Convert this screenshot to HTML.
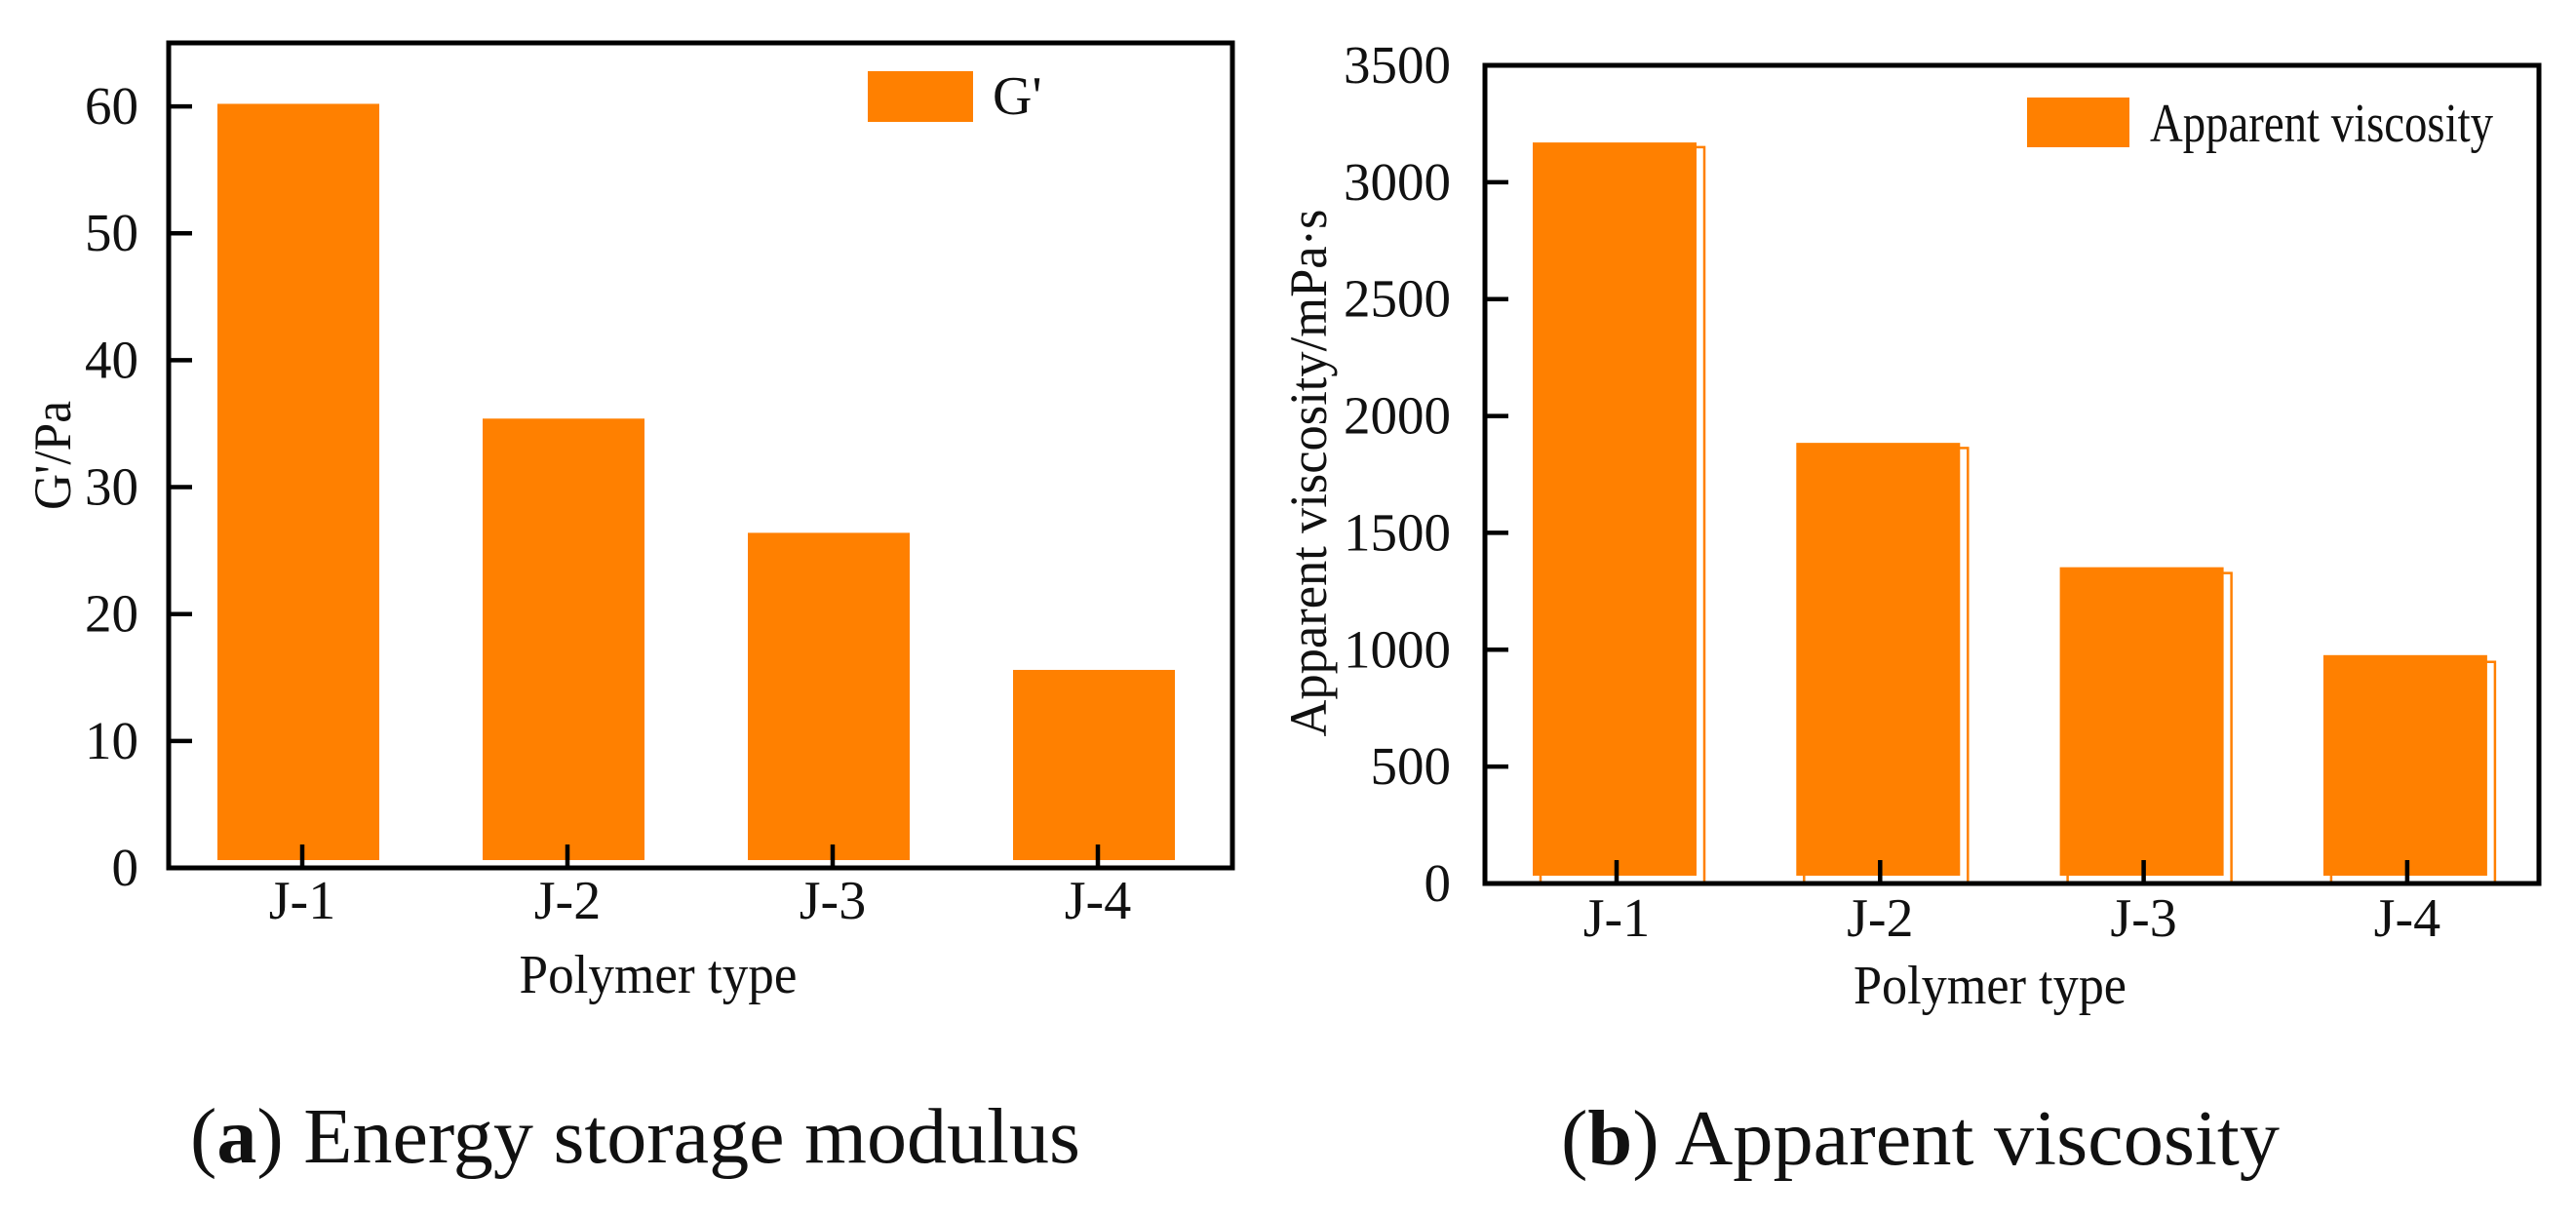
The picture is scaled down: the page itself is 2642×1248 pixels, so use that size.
<!DOCTYPE html>
<html><head><meta charset="utf-8"><style>
html,body{margin:0;padding:0;background:#fff;}
svg{display:block;}
text{font-family:"Liberation Serif",serif;fill:#111;}
</style></head><body>
<svg id="fig" width="2642" height="1248" viewBox="0 0 2642 1248" xmlns="http://www.w3.org/2000/svg">
<g id="chartA"></g>
<g id="chartB"></g>
<text x="195" y="1192" font-size="80" textLength="913" lengthAdjust="spacingAndGlyphs">(<tspan font-weight="bold">a</tspan>) Energy storage modulus</text>
<text x="1601" y="1194" font-size="80" textLength="737" lengthAdjust="spacingAndGlyphs">(<tspan font-weight="bold">b</tspan>) Apparent viscosity</text>
</svg>
<script>
const categories = ["J-1","J-2","J-3","J-4"];
const gValues = [60.2, 35.4, 26.4, 15.6];
const gTicks = [0,10,20,30,40,50,60];
const viscValues = [3170, 1885, 1353, 977];
const viscShadowValues = [3150, 1863, 1328, 948];
const viscTicks = [0,500,1000,1500,2000,2500,3000,3500];

const NS = "http://www.w3.org/2000/svg";
function mk(parent, tag, attrs){
  const e = document.createElementNS(NS, tag);
  for (const k in attrs) e.setAttribute(k, attrs[k]);
  parent.appendChild(e);
  return e;
}
const ORANGE = "#FF8000";

function drawChart(g, cfg){
  const yScale = v => cfg.y0 - (v - cfg.vmin) / (cfg.vmax - cfg.vmin) * (cfg.y0 - cfg.yTop);
  const xScale = i => cfg.x0tick + i * cfg.step;
  if (cfg.shadow){
    cfg.shadow.forEach((v,i)=>{
      const r = mk(g,"rect",{x: xScale(i)-cfg.barW/2+cfg.barOff+8, y: yScale(v), width: cfg.barW, height: cfg.y0 - yScale(v), fill:"none", stroke:ORANGE, "stroke-width":2.5});
      
      
    });
  }
  cfg.values.forEach((v,i)=>{
    const r = mk(g,"rect",{x: xScale(i)-cfg.barW/2+cfg.barOff, y: yScale(v), width: cfg.barW, height: cfg.barBottom - yScale(v), fill:ORANGE});
    
    
  });
  const f = mk(g,"rect",{x:cfg.xL, y:cfg.yTop, width:cfg.xR-cfg.xL, height:cfg.y0-cfg.yTop, fill:"none", stroke:"#000", "stroke-width":5});
  
  
  cfg.ticks.forEach(t=>{
    const y = yScale(t);
    if (t !== cfg.vmax){
      const l = mk(g,"line",{x1:cfg.xL, x2:cfg.xL+24, y1:y, y2:y, stroke:"#000", "stroke-width":4.5});
      
      
    }
    const tx = mk(g,"text",{x:cfg.tickRight, y:y+18, "font-size":55, "text-anchor":"end"});
    tx.textContent = t;
    
    
  });
  categories.forEach((c,i)=>{
    const x = xScale(i);
    const l = mk(g,"line",{x1:x, x2:x, y1:cfg.y0, y2:cfg.y0-24, stroke:"#000", "stroke-width":4.5});
    
    
    const tx = mk(g,"text",{x:x, y:cfg.xLabelY, "font-size":56, "text-anchor":"middle"});
    tx.textContent = c;
    
    
  });
  const xt = mk(g,"text",{x:cfg.xTitleX, y:cfg.xTitleY, "font-size":56, "text-anchor":"middle", textLength:cfg.xTitleLen, lengthAdjust:"spacingAndGlyphs"});
  xt.textContent = "Polymer type";
  
  
  const yt = mk(g,"text",{x:0, y:0, "font-size":54, "text-anchor":"middle", transform:`translate(${cfg.yTitleX},${cfg.yTitleY}) rotate(-90)`, textLength:cfg.yTitleLen, lengthAdjust:"spacingAndGlyphs"});
  yt.textContent = cfg.yTitle;
  
  
  const lr = mk(g,"rect",{x:cfg.legX, y:cfg.legY, width:cfg.legW, height:cfg.legH, fill:ORANGE});
  
  
  const lt = mk(g,"text",{x:cfg.legTextX, y:cfg.legTextY, "font-size":56});
  if (cfg.legTextLen){ lt.setAttribute("textLength", cfg.legTextLen); lt.setAttribute("lengthAdjust","spacingAndGlyphs"); }
  lt.textContent = cfg.legText;
  
  
}

drawChart(document.getElementById("chartA"), {
  values:gValues, ticks:gTicks, vmin:0, vmax:65,
  xL:173, xR:1264, yTop:44, y0:890, barBottom:882,
  x0tick:310, step:272, barW:166, barOff:-4,
  tickRight:142, xLabelY:942,
  xTitleX:675, xTitleY:1018, xTitleLen:285,
  yTitle:"G'/Pa", yTitleX:72, yTitleY:467, yTitleLen:112,
  legX:890, legY:73, legW:108, legH:52, legTextX:1018, legTextY:117, legText:"G'"
});
drawChart(document.getElementById("chartB"), {
  values:viscValues, shadow:viscShadowValues, ticks:viscTicks, vmin:0, vmax:3500,
  xL:1523, xR:2604, yTop:67, y0:906, barBottom:898,
  x0tick:1658, step:270.3, barW:168, barOff:-2,
  tickRight:1488, xLabelY:960,
  xTitleX:2041, xTitleY:1029, xTitleLen:280,
  yTitle:"Apparent viscosity/mPa·s", yTitleX:1360, yTitleY:485, yTitleLen:541,
  legX:2079, legY:100, legW:105, legH:51, legTextX:2205, legTextY:145, legText:"Apparent viscosity", legTextLen:352
});
</script>
</body></html>
